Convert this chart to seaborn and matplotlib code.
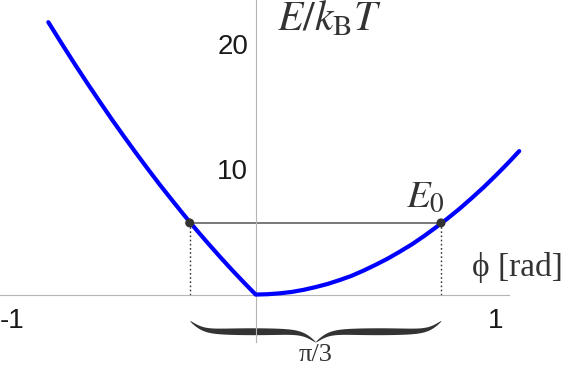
import numpy as np
import matplotlib.pyplot as plt
import matplotlib.transforms as mtransforms
import seaborn as sns

## energy curve
phi_left = [-0.864, -0.85, -0.8, -0.75, -0.7, -0.65, -0.6, -0.55, -0.5, -0.45,
            -0.4, -0.35, -0.3, -0.25, -0.2, -0.15, -0.1, -0.05, 0.0]
e_left = [21.74, 21.31, 19.78, 18.28, 16.82, 15.40, 14.0, 12.65, 11.33, 10.04,
          8.78, 7.57, 6.38, 5.23, 4.12, 3.04, 1.99, 0.98, 0.0]
phi_right = [0.05, 0.1, 0.15, 0.2, 0.25, 0.3, 0.35, 0.4, 0.45, 0.5, 0.55, 0.6,
             0.65, 0.7, 0.75, 0.8, 0.85, 0.9, 0.95, 1.0, 1.05, 1.098]
e_right = [0.03, 0.1, 0.21, 0.38, 0.6, 0.85, 1.16, 1.5, 1.92, 2.38, 2.87, 3.42,
           4.0, 4.65, 5.35, 6.08, 6.86, 7.7, 8.57, 9.5, 10.47, 11.45]

# the two crossings at E0
phi_e0 = [-0.275, 0.772]
e0 = 5.72

x_major = [-1, 1]
x_minor = [-0.8, -0.6, -0.4, -0.2, 0.2, 0.4, 0.6, 0.8]
y_major = [10, 20]
y_minor = [-2, 2, 4, 6, 8, 12, 14, 16, 18]

sns.set_style('white')
plt.rcParams['font.family'] = ['Liberation Sans', 'DejaVu Sans']
plt.rcParams['mathtext.fontset'] = 'stix'
plt.rcParams['axes.unicode_minus'] = False

axis_grey = '#b4b4b4'
ink = '#333333'


def brace(ax, x0, x1, y0, depth, thick, k=35.0):
    # curly brace hanging below y0, tip pointing down in the middle
    xs = np.linspace(x0, x1, 601)
    xm = 0.5 * (x0 + x1)
    half = np.where(xs <= xm, xs, 2 * xm - xs)
    s = 1 / (1 + np.exp(-k * (half - x0))) + 1 / (1 + np.exp(-k * (half - xm)))
    yc = y0 - (s - 0.5) * depth
    u = (half - x0) / (xm - x0)
    w = thick * np.sin(np.pi * u) ** 0.5
    ax.fill_between(xs, yc - w / 2, yc + w / 2, color=ink, lw=0)


fig = plt.figure(figsize=(5.66, 3.67), dpi=100)
ax = fig.add_axes([0, 0, 1, 1])
ax.set_xlim(-1.0654, 1.2929)
ax.set_ylim(-5.78, 23.51)

# curve
sns.lineplot(x=phi_left + phi_right, y=e_left + e_right, color='#0000ff',
             lw=3.0, ax=ax, zorder=3)

# E0 level and guides
ax.plot(phi_e0, [e0, e0], color='#555555', lw=1.1, zorder=2)
ax.vlines(phi_e0, 0, e0, colors=ink, linestyles=(0, (1.2, 1.8)), lw=1.0, zorder=2)
sns.scatterplot(x=phi_e0, y=[e0, e0], color=ink, s=42, edgecolor='none',
                ax=ax, zorder=4)

# axes through the origin
for side in ['top', 'right']:
    ax.spines[side].set_visible(False)
ax.spines['left'].set_position(('data', 0))
ax.spines['bottom'].set_position(('data', 0))
ax.spines['bottom'].set_bounds(-1.065, 1.055)
ax.spines['left'].set_bounds(-3.76, 23.51)
for side in ['left', 'bottom']:
    ax.spines[side].set_color(axis_grey)
    ax.spines[side].set_linewidth(0.8)

ax.set_xticks(x_major)
ax.set_xticks(x_minor, minor=True)
ax.set_yticks(y_major)
ax.set_yticks(y_minor, minor=True)
ax.set_xticklabels(['-1', '1'])
ax.tick_params(axis='both', which='both', direction='in', color=axis_grey,
               width=0.8, labelsize=20, labelcolor='#1a1a1a')
ax.tick_params(axis='x', which='major', length=4.3, pad=9.6)
ax.tick_params(axis='x', which='minor', length=2.4)
ax.tick_params(axis='y', which='major', length=9.0, pad=5.5)
ax.tick_params(axis='y', which='minor', length=5.5)

# nudge the "-1" so the digit sits under the tick
shift = mtransforms.ScaledTranslation(-0.035, 0, fig.dpi_scale_trans)
lbl = ax.get_xticklabels()[0]
lbl.set_transform(lbl.get_transform() + shift)

# labels
ax.text(0.0875, 21.12, r'$E/k_{\rm B}T$', fontsize=30, color=ink,
        ha='left', va='baseline')
ax.text(0.625, 7.0, r'$E_0$', fontsize=28, color=ink, ha='left', va='baseline')
ax.text(0.901, 1.48, 'ϕ [rad]', fontsize=24, color=ink, family='Liberation Serif',
        ha='left', va='baseline')

brace(ax, phi_e0[0], phi_e0[1], -2.08, 1.69, 0.55)
ax.text(np.mean(phi_e0), -5.3, 'π/3', fontsize=19, color=ink,
        family='Liberation Serif', ha='center', va='baseline')

plt.savefig('out.png', dpi=100)
